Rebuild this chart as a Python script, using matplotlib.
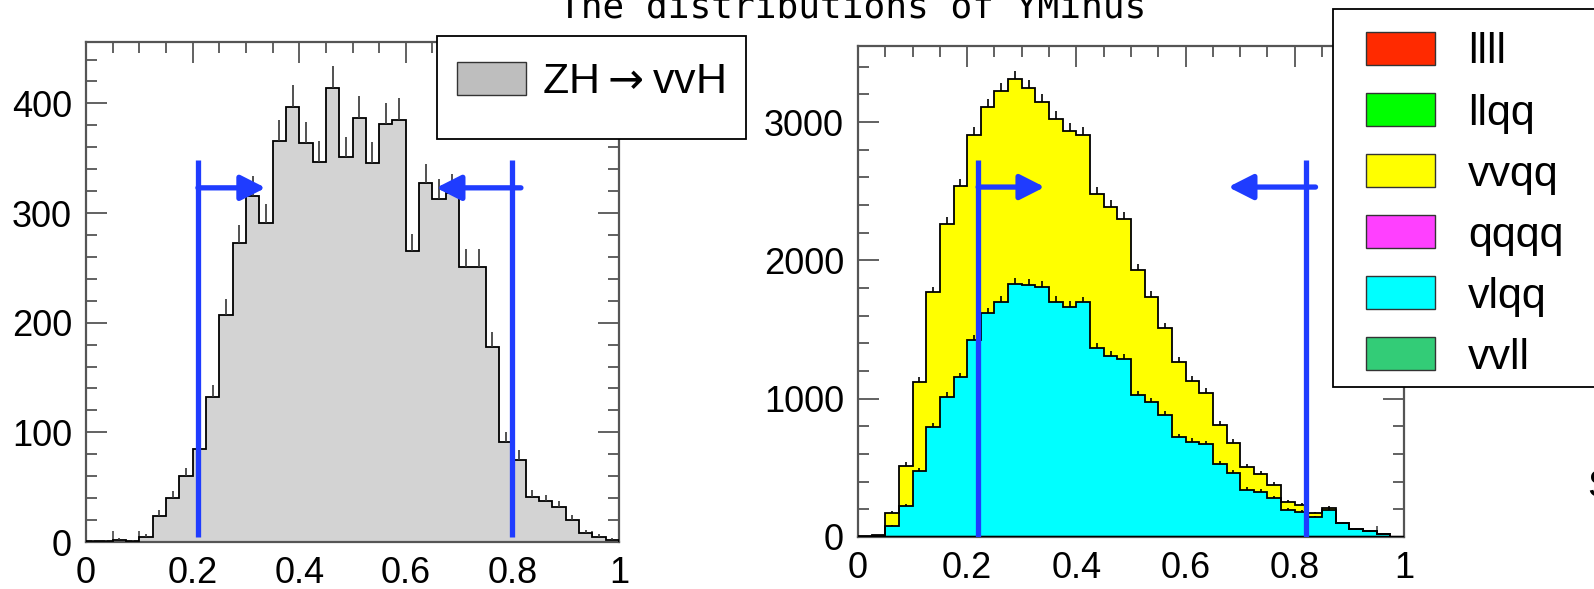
import numpy as np
import matplotlib
matplotlib.use('Agg')
import matplotlib.pyplot as plt
from matplotlib.patches import Patch, Rectangle
from matplotlib.ticker import MultipleLocator, FuncFormatter

plt.rcParams['font.family'] = ['Liberation Sans', 'DejaVu Sans']

# 40 bins of YMinus between 0 and 1
edges = np.linspace(0, 1, 41)

zh_vvh = [1, 1, 2, 1, 5, 24, 40, 60, 85, 132, 207, 273, 316, 291, 366, 397,
          364, 347, 414, 351, 387, 346, 381, 385, 265, 327, 313, 318, 251, 251,
          178, 91, 75, 41, 37, 32, 20, 8, 5, 2]

vlqq = [0, 5, 80, 224, 477, 798, 1015, 1155, 1424, 1617, 1702, 1827, 1820,
        1805, 1702, 1665, 1697, 1364, 1309, 1287, 1027, 974, 882, 721, 689,
        670, 526, 461, 340, 327, 280, 195, 183, 142, 195, 99, 58, 43, 19, 2]
vvqq = [5, 9, 96, 292, 646, 971, 1248, 1385, 1483, 1495, 1523, 1482, 1429,
        1343, 1320, 1271, 1210, 1114, 1079, 1013, 904, 764, 627, 547, 441,
        374, 284, 221, 168, 129, 96, 60, 48, 29, 12, 0, 0, 0, 0, 0]

bkg_names = ['llll', 'llqq', 'vvqq', 'qqqq', 'vlqq', 'vvll']
bkg_colors = ['#ff2a00', '#00ff00', '#ffff00', '#ff40ff', '#00ffff', '#33cc77']

# cut positions and arrows (x from, x to, y) for each panel
left_cuts = [0.21, 0.80]
left_cut_top = 348
left_arrows = [(0.21, 0.337, 323), (0.816, 0.657, 323)]
right_cuts = [0.22, 0.82]
right_cut_top = 2726
right_arrows = [(0.22, 0.342, 2530), (0.838, 0.678, 2530)]

BLUE = '#1f3cff'
W, H = 1594, 589

fig = plt.figure(figsize=(W / 100, H / 100), dpi=100)
ax1 = fig.add_axes([86 / W, 1 - 542 / H, 533 / W, 500 / H])
ax2 = fig.add_axes([858 / W, 1 - 537 / H, 546 / W, 491.3 / H])

centers = 0.5 * (edges[:-1] + edges[1:])


def style_axis(ax, ymax, ymajor, yminor):
    ax.set_xlim(0, 1)
    ax.set_ylim(0, ymax)
    ax.xaxis.set_major_locator(MultipleLocator(0.2))
    ax.xaxis.set_minor_locator(MultipleLocator(0.05))
    ax.yaxis.set_major_locator(MultipleLocator(ymajor))
    ax.yaxis.set_minor_locator(MultipleLocator(yminor))
    ax.xaxis.set_major_formatter(FuncFormatter(lambda v, p: f'{v:g}'))
    ax.tick_params(which='both', direction='in', top=True, right=True,
                   color='#555555', width=1.3, labelsize=26, pad=10)
    ax.tick_params(which='major', length=15)
    ax.tick_params(which='minor', length=8)
    for sp in ax.spines.values():
        sp.set_color('#555555')
        sp.set_linewidth(1.6)


def draw_cuts(ax, cuts, top, arrows, bottom):
    for c in cuts:
        ax.plot([c, c], [bottom, top], color=BLUE, lw=3.8, solid_capstyle='butt', zorder=6)
    for x0, x1, y in arrows:
        ax.annotate('', xy=(x1, y), xytext=(x0, y),
                    arrowprops=dict(arrowstyle='-|>,head_length=0.75,head_width=0.38',
                                    color=BLUE, lw=3.8, mutation_scale=20,
                                    shrinkA=0, shrinkB=0), zorder=6)


# left panel: signal
zh = np.array(zh_vvh, dtype=float)
ax1.stairs(zh, edges, fill=True, color='#d3d3d3', zorder=2)
ax1.stairs(zh, edges, color='black', lw=1.3, zorder=3)
ax1.vlines(centers, zh, zh + np.sqrt(zh), color='#333333', lw=1.2, zorder=3)
style_axis(ax1, 456, 100, 20)
draw_cuts(ax1, left_cuts, left_cut_top, left_arrows, 5)

# right panel: stacked backgrounds
b1 = np.array(vlqq, dtype=float)
b2 = b1 + np.array(vvqq, dtype=float)
ax2.stairs(b2, edges, fill=True, color=bkg_colors[2], zorder=2)
ax2.stairs(b1, edges, fill=True, color=bkg_colors[4], zorder=2)
ax2.stairs(b2, edges, color='black', lw=1.3, zorder=3)
ax2.stairs(b1, edges, color='black', lw=1.3, zorder=3)
for top in (b1, b2):
    ax2.vlines(centers, top, top + np.sqrt(top), color='black', lw=1.2, zorder=3)
ax2.axhline(0, color='black', lw=2.5, zorder=4)
style_axis(ax2, 3552, 1000, 200)
draw_cuts(ax2, right_cuts, right_cut_top, right_arrows, 0)

# legends (boxes drawn as figure rectangles, ROOT style)
fig.patches.append(Rectangle((437 / W, 1 - 139 / H), 309 / W, 103 / H,
                             transform=fig.transFigure, fill=True, fc='white',
                             ec='black', lw=1.3, zorder=5))
leg1 = fig.legend(handles=[Patch(facecolor='#bebebe', edgecolor='#333333',
                                 label='ZH$\\rightarrow$vvH')],
                  loc='upper left', bbox_to_anchor=(457 / W, 1 - 62 / H),
                  frameon=False, fontsize=31, borderpad=0, borderaxespad=0,
                  handlelength=1.6, handleheight=0.8, handletextpad=0.38)
leg1.set_zorder(6)

fig.patches.append(Rectangle((1333 / W, 1 - 387 / H), 300 / W, 378 / H,
                             transform=fig.transFigure, fill=True, fc='white',
                             ec='black', lw=1.3, zorder=5))
leg2 = fig.legend(handles=[Patch(facecolor=c, edgecolor='#333333', label=n)
                           for n, c in zip(bkg_names, bkg_colors)],
                  loc='upper left', bbox_to_anchor=(1366 / W, 1 - 32 / H),
                  frameon=False, fontsize=31, borderpad=0, borderaxespad=0,
                  handlelength=1.6, handleheight=0.8, handletextpad=0.77,
                  labelspacing=0.48)
leg2.set_zorder(6)

fig.text(853 / W, 1 - 18 / H, 'The distributions of YMinus', ha='center',
         va='baseline', fontsize=26, family=['DejaVu Sans Mono'])
fig.text(1587 / W, 1 - 497 / H, 'S', ha='left', va='baseline', fontsize=28)

fig.savefig('out.png', dpi=100)
